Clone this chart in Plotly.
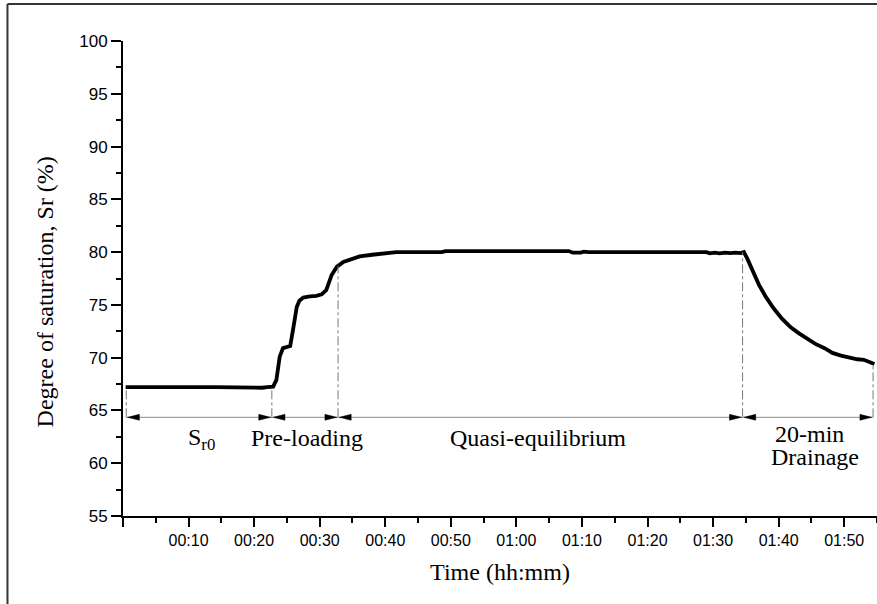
import plotly.graph_objects as go

# ---- data ----
time_min = [0.4, 2.6, 3.2, 6.0, 8.7, 9.3, 14.0, 17.6, 18.2, 20.0, 21.2, 22.0, 22.9,
            23.4, 23.9, 24.4, 25.5, 26.0, 26.5, 26.9, 27.5, 28.5, 29.5, 30.3, 31.0,
            31.8, 32.6, 33.6, 35.0, 36.1, 38.0, 39.7, 41.7, 45.0, 48.6, 49.2, 60.0,
            68.0, 68.6, 69.8, 70.3, 71.0, 80.0, 89.0, 89.5, 90.3, 91.0, 91.8, 92.6,
            93.4, 94.2, 94.7, 95.2, 96.2, 97.0, 98.0, 99.2, 100.5, 101.8, 103.1,
            104.4, 105.6, 107.0, 108.2, 109.5, 110.7, 112.0, 113.0, 113.8, 114.6]
sr_pct = [67.2, 67.15, 67.2, 67.2, 67.15, 67.2, 67.2, 67.15, 67.2, 67.2, 67.15, 67.2, 67.25,
          67.9, 70.1, 70.9, 71.1, 72.9, 74.8, 75.4, 75.7, 75.8, 75.85, 76.0, 76.4,
          77.8, 78.6, 79.07, 79.4, 79.6, 79.75, 79.9, 80.0, 80.0, 80.0, 80.1, 80.1,
          80.1, 79.95, 79.95, 80.05, 80.0, 80.0, 80.0, 79.88, 79.95, 79.88, 79.95, 79.9,
          79.95, 79.9, 80.0, 79.4, 78.0, 76.9, 75.8, 74.7, 73.7, 72.9, 72.3,
          71.8, 71.3, 70.9, 70.45, 70.2, 70.0, 69.85, 69.8, 69.6, 69.4]

# phase boundaries (min) and curve value at each boundary
phase_bounds = [0.5, 22.7, 32.8, 94.5, 114.4]
bound_tops = [67.2, 67.2, 78.7, 80.0, 69.4]
arrow_level = 64.35

phase_labels = ["S<sub>r0</sub>", "Pre-loading", "Quasi-equilibrium", "20-min", "Drainage"]
label_x = [11.9, 28.1, 63.3, 104.7, 105.5]
label_y = [62.3, 62.4, 62.4, 62.75, 60.6]

x_tickvals = [0, 10, 20, 30, 40, 50, 60, 70, 80, 90, 100, 110]
x_ticktext = ["", "00:10", "00:20", "00:30", "00:40", "00:50", "01:00", "01:10",
              "01:20", "01:30", "01:40", "01:50"]
y_tickvals = [55, 60, 65, 70, 75, 80, 85, 90, 95, 100]

SERIF = "Liberation Serif, Times New Roman, serif"
SANS = "Liberation Sans, Arial, sans-serif"

fig = go.Figure()
fig.add_trace(go.Scatter(x=time_min, y=sr_pct, mode="lines",
                         line=dict(color="black", width=3.8), showlegend=False,
                         hoverinfo="skip"))

shapes = []
# dash-dot vertical boundary lines
for bx, bt in zip(phase_bounds, bound_tops):
    shapes.append(dict(type="line", xref="x", yref="y", x0=bx, x1=bx,
                       y0=arrow_level, y1=bt,
                       line=dict(color="#777777", width=1, dash="dashdot")))
# horizontal gray line
shapes.append(dict(type="line", xref="x", yref="y", x0=phase_bounds[0], x1=phase_bounds[-1],
                   y0=arrow_level, y1=arrow_level, line=dict(color="#8a8a8a", width=1)))
# arrowheads
L, h, g = 1.8, 0.28, 0.2
for a, b in zip(phase_bounds[:-1], phase_bounds[1:]):
    ta = a + g
    tb = b - g
    shapes.append(dict(type="path", xref="x", yref="y",
                       path=f"M {ta},{arrow_level} L {ta+L},{arrow_level+h} L {ta+L},{arrow_level-h} Z",
                       fillcolor="black", line=dict(color="black", width=0.5)))
    shapes.append(dict(type="path", xref="x", yref="y",
                       path=f"M {tb},{arrow_level} L {tb-L},{arrow_level+h} L {tb-L},{arrow_level-h} Z",
                       fillcolor="black", line=dict(color="black", width=0.5)))
# outer frame (left and top edges)
shapes.append(dict(type="line", xref="paper", yref="paper", x0=-0.1532, x1=1.2,
                   y0=1.078, y1=1.078, line=dict(color="#333333", width=2)))
shapes.append(dict(type="line", xref="paper", yref="paper", x0=-0.1532, x1=-0.1532,
                   y0=1.078, y1=-0.3, line=dict(color="#333333", width=2)))

annotations = []
for t, lx, ly in zip(phase_labels, label_x, label_y):
    annotations.append(dict(x=lx, y=ly, xref="x", yref="y", text=t, showarrow=False,
                            xanchor="center", yanchor="middle",
                            font=dict(family=SERIF, size=24, color="black")))
# y-axis title (placed as in the reference, slightly below the plot centre)
annotations.append(dict(x=-0.104, y=0.472, xref="paper", yref="paper",
                        text="Degree of saturation, Sr (%)", textangle=-90,
                        showarrow=False, xanchor="center", yanchor="middle",
                        font=dict(family=SERIF, size=24, color="black")))

fig.update_layout(
    width=877, height=604,
    margin=dict(l=123, r=0, t=41, b=88),
    paper_bgcolor="white", plot_bgcolor="white",
    shapes=shapes, annotations=annotations,
    showlegend=False,
)
fig.update_xaxes(
    range=[0, 115], showgrid=False, zeroline=False,
    showline=True, linecolor="black", linewidth=2,
    ticks="outside", ticklen=9, tickwidth=2, tickcolor="black",
    tickvals=x_tickvals, ticktext=x_ticktext,
    tickfont=dict(family=SANS, size=16, color="black"),
    minor=dict(ticks="outside", dtick=5, tick0=0, ticklen=5, tickwidth=2, tickcolor="black"),
    title=dict(text="Time (hh:mm)", font=dict(family=SERIF, size=24, color="black"), standoff=15),
)
fig.update_yaxes(
    range=[55, 100], showgrid=False, zeroline=False,
    showline=True, linecolor="black", linewidth=2,
    ticks="outside", ticklen=10, tickwidth=2, tickcolor="black",
    tickvals=y_tickvals,
    tickfont=dict(family=SANS, size=17, color="black"),
    minor=dict(ticks="outside", dtick=2.5, tick0=55, ticklen=5, tickwidth=2, tickcolor="black"),
)

fig.write_html("out.html")
